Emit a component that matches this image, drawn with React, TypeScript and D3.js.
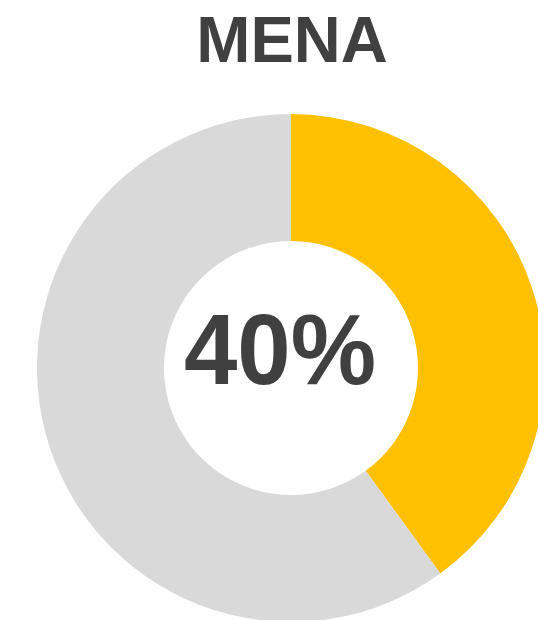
import React from "react";
import * as d3 from "d3";

const categories = ["MENA", "Rest"];
const values = [40, 60];
const colors = ["#FFC000", "#D9D9D9"];
const title = "MENA";
const centerLabel = "40%";

export default function App() {
  const width = 538;
  const height = 620;
  const cx = 291;
  const cy = 368;
  const outerR = 254;
  const innerR = 127;

  const pie = d3.pie<number>().sort(null).value((d) => d);
  const arcs = pie(values);
  const arc = d3.arc<d3.PieArcDatum<number>>().innerRadius(innerR).outerRadius(outerR);

  return (
    <svg
      width={width}
      height={height}
      style={{ position: "fixed", top: 0, left: 0, background: "#fff" }}
      fontFamily="'Liberation Sans', Arial, sans-serif"
    >
      <g transform={`translate(${cx},${cy})`}>
        {arcs.map((a, i) => (
          <path key={categories[i]} d={arc(a) || ""} fill={colors[i]} />
        ))}
      </g>
      <text
        x={292}
        y={62}
        textAnchor="middle"
        fontSize={65}
        fontWeight="bold"
        fill="#404040"
      >
        {title}
      </text>
      <text
        x={280}
        y={384}
        textAnchor="middle"
        fontSize={96}
        fontWeight="bold"
        fill="#404040"
        transform="translate(280,384) scale(1,1.04) translate(-280,-384)"
      >
        {centerLabel}
      </text>
    </svg>
  );
}
